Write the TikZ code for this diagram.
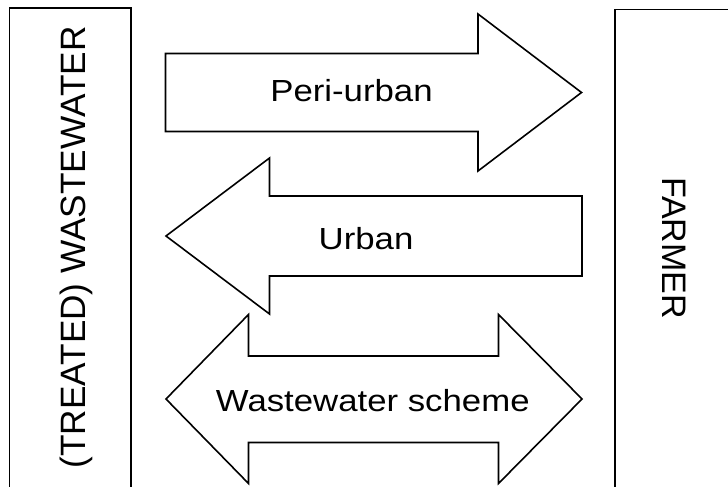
\documentclass[tikz,border=0pt]{standalone}
\usepackage{fontspec}
\usepackage{graphicx}
\setmainfont{Liberation Sans}
\newcommand{\sidefont}{\fontsize{34}{40}\selectfont}
\newcommand{\arrowtext}[1]{\scalebox{1.14}[1]{\fontsize{30.5}{36}\selectfont #1}}
\begin{document}
\begin{tikzpicture}
  [
    x=1pt,y=-1pt,
    inner sep=0pt,
    line width=1.6pt,
    pane/.style={draw=black},
    bigarrow/.style={draw=black,fill=white,line join=miter},
    sidetext/.style={anchor=base,font=\sidefont},
    arrowlabel/.style={anchor=base},
  ]
  \clip (0,0) rectangle (728,487);
  % side boxes
  \draw[pane] (9.5,8) rectangle (131,500);
  \draw[pane] (615,9.5) rectangle (740,500);
  \node (water) at (85,247.5) [sidetext,rotate=90,font=\fontsize{35.2}{40}\selectfont] {(TREATED) WASTEWATER};
  \node (farmer) at (662,248) [sidetext,rotate=-90] {FARMER};
  % peri-urban, to the farmer
  \draw[bigarrow] (165.5,53.5) -- (478,53.5) -- (478,14) -- (581.5,92.5)
    -- (478,171) -- (478,131.5) -- (165.5,131.5) -- cycle;
  \node (periurban) at (351.5,101.5) [arrowlabel] {\arrowtext{Peri-urban}};
  % urban, to the wastewater
  \draw[bigarrow] (582,196) -- (269.5,196) -- (269.5,158) -- (166,236)
    -- (269.5,314) -- (269.5,276) -- (582,276) -- cycle;
  \node (urban) at (366,249) [arrowlabel] {\arrowtext{Urban}};
  % scheme, both ways
  \draw[bigarrow] (248.5,356) -- (498.5,356) -- (498.5,314.5) -- (582,399)
    -- (498.5,483.5) -- (498.5,442.5) -- (248.5,442.5) -- (248.5,483.5)
    -- (166,399) -- (248.5,314.5) -- cycle;
  \node (scheme) at (372.8,411.5) [arrowlabel] {\arrowtext{Wastewater scheme}};
\end{tikzpicture}
\end{document}
